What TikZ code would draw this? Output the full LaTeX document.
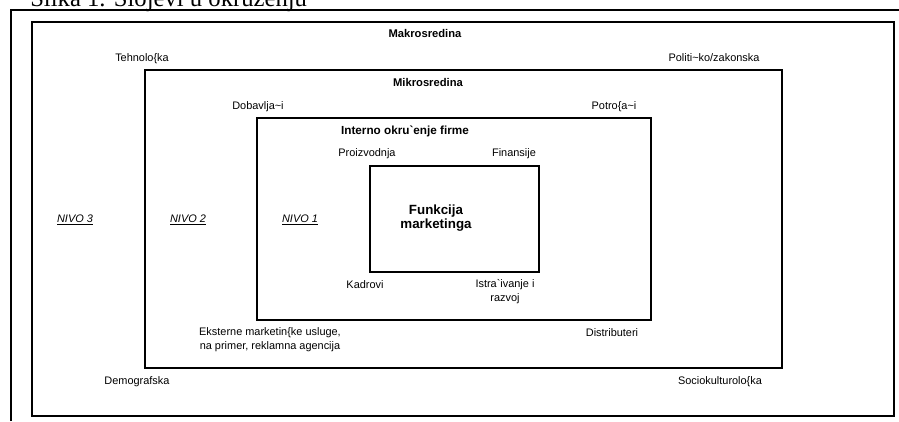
\documentclass[tikz,border=0pt]{standalone}
\usepackage{fontspec}
\setmainfont{Liberation Sans}
\newfontfamily\capfont{Liberation Serif}
\usetikzlibrary{positioning}

\tikzset{
  layer/.style={draw=black,line width=1.5pt},
  lbl/.style={font=\fontsize{8.2}{10}\selectfont,inner sep=0pt,anchor=base,align=center},
  ttl/.style={font=\bfseries\fontsize{8.4}{10.5}\selectfont,inner sep=0pt,anchor=base,align=center},
  nivo/.style={font=\itshape\fontsize{8.2}{10}\selectfont,inner sep=0pt,anchor=base}
}

\begin{document}
\begin{tikzpicture}[x=0.75pt,y=-0.75pt]
  \useasboundingbox (0,0) rectangle (899,421);
  % caption and frame
  \node[font=\capfont\fontsize{18.5}{20}\selectfont,inner sep=0pt,anchor=base west] (cap) at (30,7) {Slika 1. Slojevi u okruženju};
  \draw[line width=1.5pt] (11,421) -- (11,10) -- (899,10);

  % Nivo 3
  \draw[layer] (32,22) rectangle (894,416);
  \node[ttl] (makro) at (425,37) {Makrosredina};
  \node[lbl] (tehno) at (142,61) {Tehnolo\{ka};
  \node[lbl] (politi) at (714,61) {Politi\textasciitilde ko/zakonska};
  \node[lbl] (demo) at (137,384) {Demografska};
  \node[lbl] (socio) at (720,384) {Sociokulturolo\{ka};
  \node[nivo] (n3) at (75,222) {\underline{NIVO 3}};

  % Nivo 2
  \draw[layer] (145,70) rectangle (782,368);
  \node[ttl] (mikro) at (428,86) {Mikrosredina};
  \node[lbl] (dobav) at (258,109) {Dobavlja\textasciitilde i};
  \node[lbl] (potro) at (614,109) {Potro\{a\textasciitilde i};
  \node[lbl] (ekst) at (270,349) {Eksterne marketin\{ke usluge,\\ na primer, reklamna agencija};
  \node[lbl] (distr) at (612,336) {Distributeri};
  \node[nivo] (n2) at (188,222) {\underline{NIVO 2}};

  % Nivo 1
  \draw[layer] (257,118) rectangle (651,320);
  \node[ttl,font=\bfseries\fontsize{8.8}{10.5}\selectfont] (interno) at (405,134) {Interno okru\textasciigrave enje firme};
  \node[lbl] (proiz) at (367,156) {Proizvodnja};
  \node[lbl] (finan) at (514,156) {Finansije};
  \node[lbl] (kadr) at (365,288) {Kadrovi};
  \node[lbl] (istr) at (505,301) {Istra\textasciigrave ivanje i\\razvoj};
  \node[nivo] (n1) at (300,222) {\underline{NIVO 1}};

  % Funkcija marketinga
  \draw[layer] (370,166) rectangle (539,272);
  \node[ttl,font=\bfseries\fontsize{10}{10.5}\selectfont] (funk) at (436,228) {Funkcija\\marketinga};
\end{tikzpicture}
\end{document}
